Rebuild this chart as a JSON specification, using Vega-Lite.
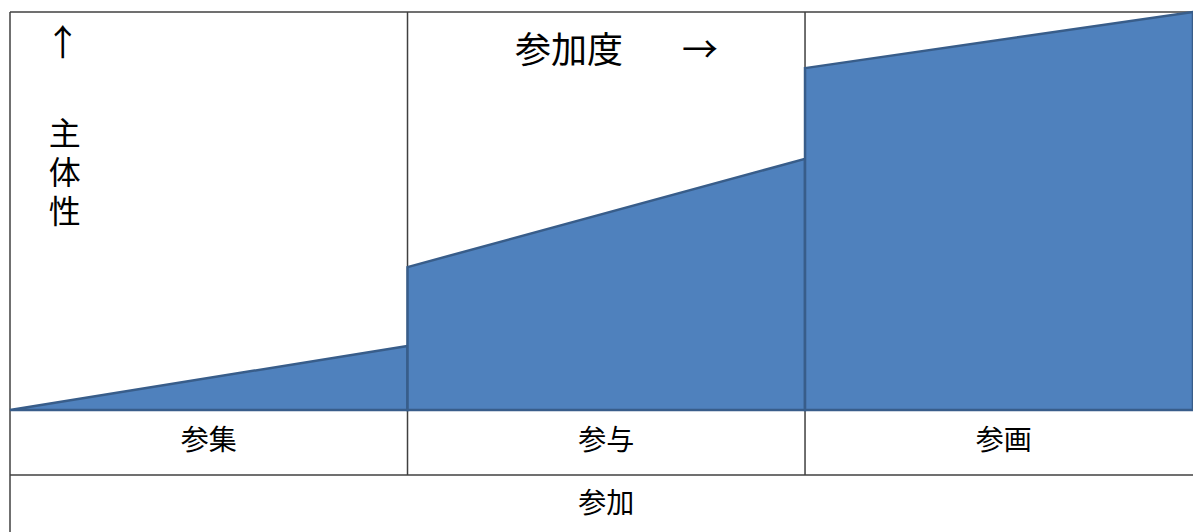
{
  "$schema": "https://vega.github.io/schema/vega-lite/v6.json",
  "width": 1183,
  "height": 520,
  "autosize": {"type": "none"},
  "padding": {"left": 10, "top": 12, "right": 0, "bottom": 0},
  "background": "white",
  "config": {"view": {"stroke": null}, "font": "Noto Sans CJK JP"},
  "datasets": {
    "area": [
      {"stage": "参集", "x": 0, "y": 0},
      {"stage": "参集", "x": 1, "y": 0.161},
      {"stage": "参与", "x": 1, "y": 0.359},
      {"stage": "参与", "x": 2, "y": 0.631},
      {"stage": "参画", "x": 2, "y": 0.859},
      {"stage": "参画", "x": 2.976, "y": 1.0}
    ],
    "vlines": [
      {"x": 0, "y": 1, "y2": -0.3065},
      {"x": 1, "y": 1, "y2": -0.1633},
      {"x": 2, "y": 1, "y2": -0.1633}
    ],
    "hlines": [
      {"x": 0, "x2": 2.976, "y": 1},
      {"x": 0, "x2": 2.976, "y": 0},
      {"x": 0, "x2": 2.976, "y": -0.1633}
    ],
    "labels": [
      {"text": "↑", "x": 0.133, "y": 0.918, "kind": "big"},
      {"text": "主\n体\n性", "x": 0.138, "y": 0.691, "kind": "vert"},
      {"text": "参加度", "x": 1.406, "y": 0.899, "kind": "big"},
      {"text": "→", "x": 1.736, "y": 0.899, "kind": "big"},
      {"text": "参集", "x": 0.5, "y": -0.0804, "kind": "cell"},
      {"text": "参与", "x": 1.5, "y": -0.0804, "kind": "cell"},
      {"text": "参画", "x": 2.5, "y": -0.0804, "kind": "cell"},
      {"text": "参加", "x": 1.5, "y": -0.2387, "kind": "cell"}
    ]
  },
  "encoding": {},
  "resolve": {"scale": {"x": "shared", "y": "shared"}},
  "layer": [
    {
      "data": {"name": "vlines"},
      "mark": {"type": "rule", "color": "#404040", "strokeWidth": 1.5},
      "encoding": {
        "x": {"field": "x", "type": "quantitative", "scale": {"domain": [0, 2.976], "nice": false, "zero": false}, "axis": null},
        "y": {"field": "y", "type": "quantitative", "scale": {"domain": [-0.3065, 1], "nice": false, "zero": false}, "axis": null},
        "y2": {"field": "y2"}
      }
    },
    {
      "data": {"name": "hlines"},
      "mark": {"type": "rule", "color": "#404040", "strokeWidth": 1.5},
      "encoding": {
        "x": {"field": "x", "type": "quantitative", "axis": null},
        "x2": {"field": "x2"},
        "y": {"field": "y", "type": "quantitative", "axis": null}
      }
    },
    {
      "data": {"name": "area"},
      "mark": {"type": "area", "orient": "vertical", "fill": "#4f81bd", "stroke": "#385d8a", "strokeWidth": 2.5, "fillOpacity": 1},
      "encoding": {
        "x": {"field": "x", "type": "quantitative", "axis": null, "stack": null},
        "y": {"field": "y", "type": "quantitative", "axis": null, "stack": null},
        "detail": {"field": "stage"}
      }
    },
    {
      "data": {"name": "labels"},
      "transform": [{"filter": "datum.kind === 'big'"}],
      "mark": {"type": "text", "fontSize": 36, "color": "black", "align": "center", "baseline": "middle", "font": "Noto Sans CJK JP"},
      "encoding": {
        "x": {"field": "x", "type": "quantitative", "axis": null},
        "y": {"field": "y", "type": "quantitative", "axis": null},
        "text": {"field": "text"}
      }
    },
    {
      "data": {"name": "labels"},
      "transform": [{"filter": "datum.kind === 'vert'"}],
      "mark": {"type": "text", "fontSize": 32, "color": "black", "align": "center", "baseline": "middle", "lineBreak": "\n", "lineHeight": 39, "font": "Noto Sans CJK JP"},
      "encoding": {
        "x": {"field": "x", "type": "quantitative", "axis": null},
        "y": {"field": "y", "type": "quantitative", "axis": null},
        "text": {"field": "text"}
      }
    },
    {
      "data": {"name": "labels"},
      "transform": [{"filter": "datum.kind === 'cell'"}],
      "mark": {"type": "text", "fontSize": 28, "color": "black", "align": "center", "baseline": "middle", "font": "Noto Sans CJK JP"},
      "encoding": {
        "x": {"field": "x", "type": "quantitative", "axis": null},
        "y": {"field": "y", "type": "quantitative", "axis": null},
        "text": {"field": "text"}
      }
    }
  ]
}
